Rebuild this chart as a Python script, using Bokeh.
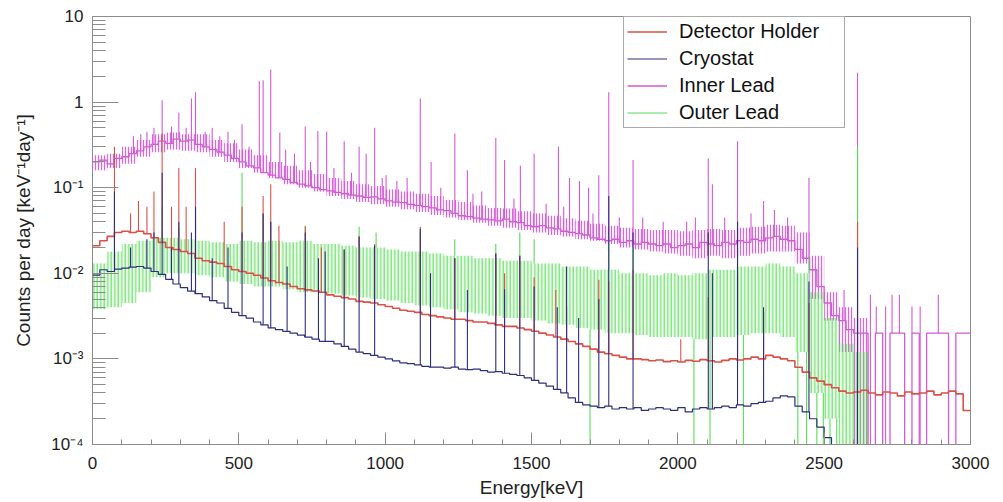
import numpy as np
from bokeh.plotting import figure
from bokeh.models import Range1d, FixedTicker, CustomJSTickFormatter, Legend, LegendItem
from bokeh.embed import file_html
from bokeh.resources import INLINE

# ---------------- data ----------------
bin_width = 25  # keV, continuum bins 0..3000

inner_lead = [
    0.20, 0.21, 0.19, 0.22, 0.23, 0.25, 0.27, 0.30, 0.32, 0.35,
    0.33, 0.37, 0.35, 0.36, 0.32, 0.30, 0.28, 0.26, 0.24, 0.22,
    0.20, 0.18, 0.17, 0.15, 0.14, 0.13, 0.125, 0.115, 0.11, 0.105,
    0.10, 0.095, 0.092, 0.088, 0.085, 0.082, 0.080, 0.077, 0.078, 0.074,
    0.070, 0.068, 0.067, 0.064, 0.062, 0.060, 0.058, 0.055, 0.054, 0.050,
    0.047, 0.046, 0.044, 0.043, 0.042, 0.041, 0.043, 0.040, 0.039, 0.036,
    0.035, 0.036, 0.034, 0.033, 0.031, 0.030, 0.029, 0.028, 0.026, 0.025,
    0.024, 0.025, 0.023, 0.024, 0.022, 0.023, 0.022, 0.021, 0.022, 0.020,
    0.021, 0.022, 0.020, 0.023, 0.022, 0.021, 0.023, 0.022, 0.024, 0.023,
    0.025, 0.024, 0.026, 0.027, 0.025, 0.024, 0.019, 0.015, 0.011, 0.007,
    0.0045, 0.0032, 0.0028, 0.0022, 0.002, 0.002, 0, 0.002, 0, 0.002,
    0.002, 0, 0.002, 0, 0.002, 0.002, 0.002, 0, 0.002, 0.002,
]
# spread of the inner-lead fluctuations, 50 keV bins
inner_hi = [
    0.24, 0.25, 0.30, 0.36, 0.42, 0.44, 0.42, 0.42, 0.36, 0.33,
    0.28, 0.24, 0.20, 0.18, 0.16, 0.145, 0.13, 0.12, 0.11, 0.105,
    0.095, 0.09, 0.085, 0.08, 0.072, 0.068, 0.062, 0.058, 0.057, 0.053,
    0.05, 0.047, 0.044, 0.041, 0.038, 0.036, 0.034, 0.033, 0.032, 0.032,
    0.031, 0.032, 0.033, 0.032, 0.034, 0.035, 0.037, 0.036, 0.03, 0.016,
    0.006, 0.004, 0.003, 0, 0, 0, 0, 0, 0, 0,
]
inner_lo = [
    0.16, 0.17, 0.19, 0.23, 0.26, 0.28, 0.27, 0.26, 0.23, 0.2,
    0.17, 0.15, 0.13, 0.11, 0.1, 0.09, 0.08, 0.074, 0.068, 0.064,
    0.06, 0.056, 0.052, 0.048, 0.045, 0.042, 0.039, 0.036, 0.034, 0.032,
    0.03, 0.028, 0.027, 0.025, 0.024, 0.022, 0.02, 0.019, 0.018, 0.017,
    0.016, 0.015, 0.016, 0.015, 0.016, 0.017, 0.018, 0.018, 0.013, 0.005,
    0.0028, 0.0012, 0, 0, 0, 0, 0, 0, 0, 0,
]

detector_holder = [
    0.021, 0.024, 0.027, 0.030, 0.031, 0.030, 0.031, 0.029, 0.026, 0.023,
    0.020, 0.019, 0.018, 0.017, 0.015, 0.014, 0.0135, 0.013, 0.012, 0.011,
    0.0105, 0.010, 0.0095, 0.0088, 0.0082, 0.0078, 0.0075, 0.0070, 0.0066, 0.0064,
    0.0062, 0.0060, 0.0056, 0.0054, 0.0052, 0.0050, 0.0047, 0.0046, 0.0045, 0.0043,
    0.0041, 0.0039, 0.0037, 0.0036, 0.0035, 0.0033, 0.0032, 0.0031, 0.0030, 0.0029,
    0.0029, 0.0028, 0.0027, 0.0027, 0.0026, 0.0025, 0.0024, 0.0024, 0.0023, 0.0022,
    0.0021, 0.0020, 0.0019, 0.0018, 0.0017, 0.0016, 0.0015, 0.0014, 0.0013, 0.0012,
    0.00115, 0.0011, 0.00105, 0.0010, 0.0010, 0.00098, 0.00095, 0.00097, 0.00093, 0.00095,
    0.00092, 0.00096, 0.00094, 0.00098, 0.00095, 0.00092, 0.00096, 0.0010, 0.00097, 0.0010,
    0.00105, 0.0010, 0.0011, 0.00105, 0.0010, 0.00095, 0.0008, 0.0007, 0.0006, 0.00055,
    0.0005, 0.00046, 0.00042, 0.0004, 0.00041, 0.00043, 0.0004, 0.00038, 0.00041, 0.0004,
    0.00037, 0.00041, 0.00039, 0.0004, 0.00042, 0.00038, 0.0004, 0.00042, 0.00039, 0.00025,
]

cryostat = [
    0.0095, 0.011, 0.0105, 0.0112, 0.0115, 0.0118, 0.012, 0.0115, 0.0105, 0.0097,
    0.0085, 0.0075, 0.0068, 0.0062, 0.0058, 0.0053, 0.0048, 0.0045, 0.0039, 0.0035,
    0.0032, 0.0030, 0.0027, 0.0025, 0.0023, 0.0022, 0.0021, 0.0020, 0.0019, 0.0018,
    0.0017, 0.0016, 0.0016, 0.0015, 0.0014, 0.0013, 0.0012, 0.00115, 0.0011, 0.00105,
    0.0010, 0.00095, 0.0009, 0.00088, 0.00085, 0.00082, 0.0008, 0.0008, 0.00078, 0.0008,
    0.00076, 0.00075, 0.00076, 0.00073, 0.0007, 0.00071, 0.00068, 0.00066, 0.00064, 0.0006,
    0.00056, 0.00052, 0.00048, 0.00044, 0.0004, 0.00035, 0.00031, 0.00029, 0.00028, 0.00027,
    0.00028, 0.00026, 0.00027, 0.00026, 0.00027, 0.00025, 0.00026, 0.00027, 0.00026, 0.00025,
    0.00027, 0.00024, 0.00026, 0.00027, 0.00026, 0.00027, 0.00028, 0.00027, 0.00029, 0.00028,
    0.0003, 0.00031, 0.00032, 0.00035, 0.00037, 0.00036, 0.00028, 0.00024, 0.0002, 0.00016,
    0.00012, 0, 0, 0, 0, 0, 0, 0, 0, 0,
    0, 0, 0, 0, 0, 0, 0, 0, 0, 0,
]

# Outer lead: strongly fluctuating, given as upper / lower envelope in 50 keV bins
outer_bin_width = 50
outer_hi = [
    0.013, 0.018, 0.022, 0.024, 0.026, 0.026, 0.025, 0.024, 0.023, 0.022,
    0.024, 0.023, 0.024, 0.023, 0.024, 0.022, 0.022, 0.021, 0.020, 0.020,
    0.019, 0.018, 0.018, 0.017, 0.016, 0.016, 0.015, 0.015, 0.014, 0.014,
    0.013, 0.013, 0.012, 0.012, 0.011, 0.011, 0.010, 0.010, 0.0095, 0.010,
    0.0095, 0.010, 0.011, 0.011, 0.012, 0.012, 0.013, 0.012, 0.010, 0.006,
    0.003, 0.0015, 0.0012, 0, 0, 0, 0, 0, 0, 0,
]
outer_lo = [
    0.0038, 0.004, 0.0045, 0.006, 0.009, 0.010, 0.010, 0.0095, 0.009, 0.008,
    0.0075, 0.007, 0.007, 0.0065, 0.006, 0.006, 0.0058, 0.0055, 0.0052, 0.005,
    0.0048, 0.0045, 0.0042, 0.004, 0.0038, 0.0035, 0.0034, 0.0032, 0.003, 0.003,
    0.0028, 0.0026, 0.0025, 0.0023, 0.0022, 0.002, 0.002, 0.0019, 0.0018, 0.0018,
    0.0018, 0.0017, 0.0018, 0.0018, 0.0019, 0.002, 0.002, 0.0018, 0.0012, 0.0004,
    0.0002, 0.0001, 0.0001, 0, 0, 0, 0, 0, 0, 0,
]
outer_dips = [1700, 2055, 2110, 2224, 2410, 2440, 2475, 2497, 2520, 2543, 2572, 2595, 2612]

# gamma lines (keV) and peak heights (counts/keV/day)
inner_peak_e = [186, 238, 295, 338, 352, 409, 463, 511, 570, 583, 609, 640, 727, 770, 800,
                860, 911, 935, 964, 1003, 1120, 1157, 1238, 1281, 1378, 1408, 1462, 1509, 1592,
                1630, 1664, 1695, 1730, 1764, 1847, 2104, 2118, 2204, 2293, 2448, 2614]
inner_peak_h = [0.45, 1.05, 0.75, 1.1, 1.3, 0.5, 0.45, 0.55, 1.75, 1.8, 2.4, 0.44, 0.52, 0.46, 0.45,
                0.35, 0.3, 0.25, 0.5, 0.14, 1.1, 0.2, 0.43, 0.16, 0.38, 0.21, 0.18, 0.25, 0.3,
                0.13, 0.12, 0.1, 0.14, 1.3, 0.21, 0.22, 0.11, 0.35, 0.07, 0.13, 2.2]
inner_spike_e = [140, 165, 210, 270, 320, 385, 435, 485, 535, 660, 690, 745, 825, 885, 990, 1040,
                 1075, 1190, 1300, 1330, 1440, 1550, 1610, 1710, 1800, 1880, 1950, 2030, 2060, 2160,
                 2250, 2330, 2375, 2568, 2658, 2678, 2710, 2732, 2757, 2800, 2828, 2890]
inner_spike_h = [0.4, 0.42, 0.5, 0.52, 0.5, 0.45, 0.4, 0.36, 0.3, 0.28, 0.25, 0.2, 0.17, 0.15, 0.13, 0.12,
                 0.13, 0.1, 0.085, 0.09, 0.075, 0.065, 0.06, 0.05, 0.045, 0.045, 0.04, 0.04, 0.045, 0.045,
                 0.05, 0.055, 0.045, 0.0064, 0.0056, 0.0041, 0.0041, 0.0056, 0.0056, 0.0041, 0.0041, 0.0056]

holder_peak_e = [75, 130, 157, 186, 210, 238, 270, 295, 320, 352, 450, 511, 583, 609, 637,
                 727, 782, 860, 911, 964, 1120, 1238, 1378, 1408, 1460, 1509, 1583, 1620, 1730,
                 1764, 1847, 2010, 2104, 2204, 2293, 2448, 2614]
holder_peak_h = [0.3, 0.05, 0.07, 0.06, 0.09, 0.43, 0.06, 0.17, 0.06, 0.17, 0.04, 0.06, 0.08, 0.11, 0.036,
                 0.036, 0.02, 0.019, 0.027, 0.022, 0.035, 0.015, 0.017, 0.01, 0.016, 0.009, 0.0064, 0.0041, 0.0084,
                 0.008, 0.011, 0.0017, 0.0053, 0.01, 0.0035, 0.0045, 0.04]

cryo_peak_e = [75, 130, 186, 210, 238, 270, 295, 338, 352, 409, 463, 511, 583, 609, 665,
               727, 772, 795, 860, 911, 964, 1120, 1155, 1238, 1281, 1378, 1408, 1460, 1509, 1588,
               1620, 1661, 1730, 1764, 1847, 2104, 2118, 2204, 2293, 2448, 2614]
cryo_peak_h = [0.09, 0.02, 0.025, 0.03, 0.15, 0.02, 0.04, 0.03, 0.06, 0.015, 0.02, 0.03, 0.05, 0.04, 0.012,
               0.03, 0.015, 0.018, 0.019, 0.027, 0.021, 0.033, 0.01, 0.015, 0.0064, 0.017, 0.0065, 0.016, 0.007, 0.004,
               0.012, 0.003, 0.005, 0.08, 0.03, 0.03, 0.01, 0.04, 0.004, 0.008, 0.02]

outer_peak_e = [75, 238, 295, 352, 511, 583, 609, 727, 911, 969, 1120, 1238, 1378, 1460, 1509,
                1764, 1847, 2204, 2448, 2614]
outer_peak_h = [0.03, 0.06, 0.035, 0.045, 0.15, 0.05, 0.04, 0.035, 0.035, 0.03, 0.03, 0.025, 0.022, 0.03, 0.025,
                0.025, 0.02, 0.02, 0.015, 0.3]

labels = ["Detector Holder", "Cryostat", "Inner Lead", "Outer Lead"]
colors = {"Detector Holder": "#dc5048", "Cryostat": "#2e2f7c",
          "Inner Lead": "#d35ad6", "Outer Lead": "#58dc58"}

# ---------------- helpers ----------------
FLOOR = 1e-6  # empty bins are drawn below the axis minimum


def floor(v):
    return [x if x > 0 else FLOOR for x in v]


def step_xy(vals, width):
    edges = list(np.arange(len(vals) + 1) * width)
    ys = floor(vals) + [floor(vals)[-1]]
    return edges, ys


def base_at(vals, width, energies):
    return [floor(vals)[min(int(e // width), len(vals) - 1)] for e in energies]


def band(p, hi, lo, width, color, fill_alpha, scale, weight):
    left = list(np.arange(len(hi)) * width)
    right = [l + width for l in left]
    p.quad(left=left, right=right, bottom=floor(lo), top=floor(hi),
           fill_color=color, fill_alpha=fill_alpha, line_alpha=0,
           hatch_pattern="|", hatch_color=color, hatch_scale=scale,
           hatch_weight=weight, hatch_alpha=0.9)


# ---------------- figure ----------------
p = figure(width=995, height=500, x_range=Range1d(0, 3000), y_range=Range1d(1e-4, 10),
           y_axis_type="log", output_backend="svg", toolbar_location=None,
           min_border_left=92, min_border_right=25, min_border_top=16, min_border_bottom=55,
           background_fill_color="white", border_fill_color="white")
p.grid.visible = False
p.outline_line_color = "#8c8c8c"
p.outline_line_width = 1

LW = 1.1
renderers = {}

# Inner lead
c = colors["Inner Lead"]
band(p, inner_hi, inner_lo, 50, c, 0.12, 3.0, 1.0)
x, y = step_xy(inner_lead, bin_width)
renderers["Inner Lead"] = p.step(x, y, mode="after", line_color=c, line_width=1.3)
p.segment(x0=inner_spike_e, x1=inner_spike_e, y0=base_at(inner_lead, bin_width, inner_spike_e),
          y1=inner_spike_h, line_color=c, line_width=LW)
p.segment(x0=inner_peak_e, x1=inner_peak_e, y0=base_at(inner_lead, bin_width, inner_peak_e),
          y1=inner_peak_h, line_color=c, line_width=LW)

# Outer lead (band of fluctuations)
c = colors["Outer Lead"]
band(p, outer_hi, outer_lo, outer_bin_width, c, 0.12, 3.5, 1.1)
p.segment(x0=outer_dips, x1=outer_dips, y0=base_at(outer_lo, outer_bin_width, outer_dips),
          y1=[FLOOR] * len(outer_dips), line_color=c, line_width=LW)
renderers["Outer Lead"] = p.segment(x0=outer_peak_e, x1=outer_peak_e,
                                    y0=base_at(outer_hi, outer_bin_width, outer_peak_e),
                                    y1=outer_peak_h, line_color=c, line_width=LW)

# Detector holder
c = colors["Detector Holder"]
x, y = step_xy(detector_holder, bin_width)
renderers["Detector Holder"] = p.step(x, y, mode="after", line_color=c, line_width=1.6)
p.segment(x0=holder_peak_e, x1=holder_peak_e, y0=base_at(detector_holder, bin_width, holder_peak_e),
          y1=holder_peak_h, line_color=c, line_width=LW)

# Cryostat
c = colors["Cryostat"]
x, y = step_xy(cryostat, bin_width)
renderers["Cryostat"] = p.step(x, y, mode="after", line_color=c, line_width=1.2)
p.segment(x0=cryo_peak_e, x1=cryo_peak_e, y0=base_at(cryostat, bin_width, cryo_peak_e),
          y1=cryo_peak_h, line_color=c, line_width=LW)

# ---------------- axes ----------------
FONT = "Liberation Sans"
xa = p.xaxis[0]
xa.ticker = FixedTicker(ticks=list(range(0, 3001, 500)), minor_ticks=list(range(0, 3001, 100)))
xa.axis_label = "Energy[keV]"
ya = p.yaxis[0]
decades = [10.0 ** k for k in range(-4, 2)]
minors = [m * d for d in decades[:-1] for m in range(2, 10)]
ya.ticker = FixedTicker(ticks=decades, minor_ticks=minors)
ya.formatter = CustomJSTickFormatter(code="""
const e = Math.round(Math.log10(tick));
if (e === 0) return "1";
if (e === 1) return "10";
const sup = {"-":"\u207b","0":"\u2070","1":"\u00b9","2":"\u00b2","3":"\u00b3","4":"\u2074",
             "5":"\u2075","6":"\u2076","7":"\u2077","8":"\u2078","9":"\u2079"};
return "10" + String(e).split("").map(c => sup[c]).join("");
""")
ya.axis_label = "Counts per day [keV\u207b\u00b9day\u207b\u00b9]"

for ax in (xa, ya):
    ax.axis_line_color = "#8c8c8c"
    ax.major_tick_line_color = "#8c8c8c"
    ax.minor_tick_line_color = "#8c8c8c"
    ax.major_tick_out = 0
    ax.minor_tick_out = 0
    ax.major_label_text_font = FONT
    ax.major_label_text_font_size = "17px"
    ax.major_label_text_color = "#222222"
    ax.axis_label_text_font = FONT
    ax.axis_label_text_font_size = "19px"
    ax.axis_label_text_font_style = "normal"
    ax.axis_label_text_color = "#222222"

xa.major_tick_in = 12
xa.minor_tick_in = 5
xa.major_label_standoff = 12
xa.axis_label_standoff = 5
ya.major_tick_in = 26
ya.minor_tick_in = 13
ya.major_label_standoff = 9
ya.axis_label_standoff = 14

# ---------------- legend ----------------
items = [LegendItem(label=lab, renderers=[renderers[lab]]) for lab in labels]
legend = Legend(items=items, location=(531, 316), orientation="vertical",
                label_text_font=FONT, label_text_font_size="20px", label_text_color="#111111",
                glyph_width=40, glyph_height=21, label_height=21, label_standoff=12, label_width=162,
                spacing=4, padding=3, margin=0,
                border_line_color="#555555", border_line_width=1,
                background_fill_color="white", background_fill_alpha=1.0)
p.add_layout(legend)

open("out.html", "w").write(file_html(p, INLINE))
